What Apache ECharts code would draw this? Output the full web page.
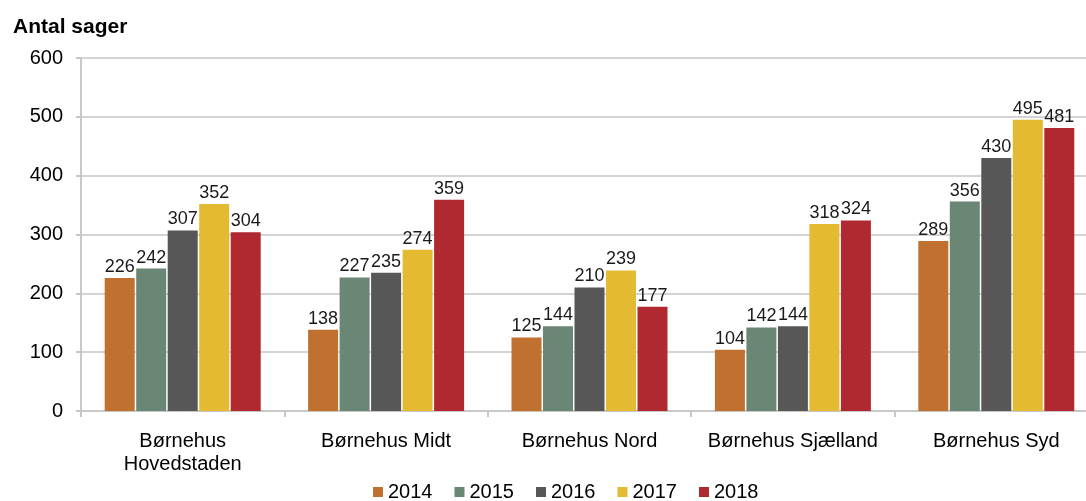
<!DOCTYPE html>
<html>
<head>
<meta charset="utf-8">
<script src="https://cdn.jsdelivr.net/npm/echarts@6/dist/echarts.min.js"></script>
<style>
  html, body { margin: 0; padding: 0; background: #fff; }
  #chart { width: 1086px; height: 501px; }
</style>
</head>
<body>
<div id="chart"></div>
<script>
// kategorier og værdier
var categories = ['Børnehus\nHovedstaden', 'Børnehus Midt', 'Børnehus Nord', 'Børnehus Sjælland', 'Børnehus Syd'];
var years = ['2014', '2015', '2016', '2017', '2018'];
var v2014 = [226, 138, 125, 104, 289];
var v2015 = [242, 227, 144, 142, 356];
var v2016 = [307, 235, 210, 144, 430];
var v2017 = [352, 274, 239, 318, 495];
var v2018 = [304, 359, 177, 324, 481];
var colors = ['#C0702F', '#6A8775', '#575757', '#E3BA32', '#B02830'];

var values = [v2014, v2015, v2016, v2017, v2018];
var font = 'Liberation Sans, Arial, sans-serif';

var myChart = echarts.init(document.getElementById('chart'));

var series = years.map(function (y, i) {
    return {
        name: y,
        type: 'bar',
        data: values[i],
        barWidth: 30,
        barGap: '5%',
        itemStyle: { color: colors[i] },
        label: {
            show: true,
            position: 'top',
            distance: 2,
            color: '#1a1a1a',
            fontSize: 18,
            fontFamily: font
        }
    };
});

var option = {
    animation: false,
    title: {
        text: 'Antal sager',
        left: 8,
        top: 12,
        textStyle: { fontSize: 21, fontWeight: 'bold', color: '#000', fontFamily: font }
    },
    legend: {
        data: years,
        bottom: -6,
        left: 368,
        icon: 'rect',
        itemWidth: 10,
        itemHeight: 10,
        itemGap: 22,
        textStyle: { fontSize: 20, color: '#000', fontFamily: font }
    },
    grid: {
        left: 81,
        top: 58,
        width: 1017,
        height: 353,
        outerBoundsMode: 'none'
    },
    xAxis: {
        type: 'category',
        data: categories,
        axisLine: { lineStyle: { color: '#c8c8c8', width: 2 } },
        axisTick: { show: true, length: 6, lineStyle: { color: '#c8c8c8', width: 2 } },
        axisLabel: {
            color: '#000',
            fontSize: 20,
            fontFamily: font,
            margin: 19,
            lineHeight: 23,
            interval: 0
        }
    },
    yAxis: {
        type: 'value',
        min: 0,
        max: 600,
        interval: 100,
        axisLine: { show: true, lineStyle: { color: '#c8c8c8', width: 2 } },
        axisTick: { show: true, length: 5, lineStyle: { color: '#c8c8c8', width: 2 } },
        splitLine: { lineStyle: { color: '#d4d4d4', width: 2 } },
        axisLabel: { color: '#000', fontSize: 20, fontFamily: font, margin: 18 }
    },
    series: series
};

myChart.setOption(option);
</script>
</body>
</html>
